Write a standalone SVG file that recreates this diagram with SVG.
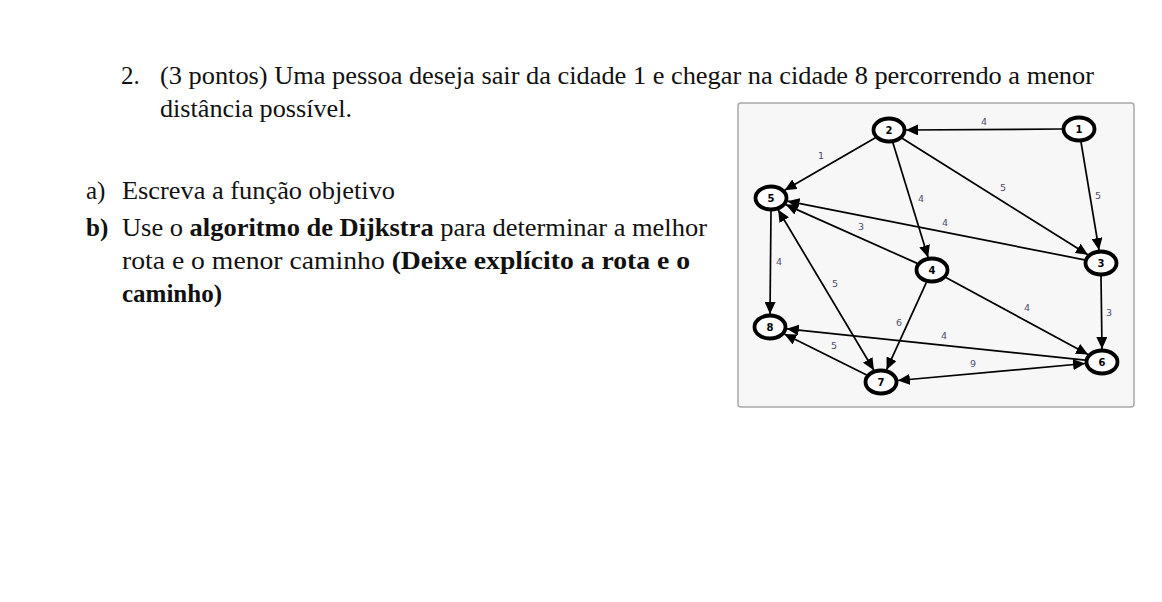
<svg xmlns="http://www.w3.org/2000/svg" width="1162" height="602" viewBox="0 0 1162 602">
<style>
.t{font-family:"Liberation Serif","Times New Roman",serif;font-size:25px;fill:#111}
.b{font-weight:bold}
.nd{fill:#fff;stroke:#000;stroke-width:3.8}
.nl{font-family:"DejaVu Sans",Verdana,sans-serif;font-size:10px;font-weight:bold;fill:#000;text-anchor:middle}
.el{font-family:"DejaVu Sans",Verdana,sans-serif;font-size:9.5px;fill:#4e4e6e;text-anchor:middle}
.e{stroke:#000;stroke-width:1.7;fill:none;marker-end:url(#ah)}
.e2{marker-start:url(#ah)}
</style>
<defs>
<marker id="ah" markerUnits="userSpaceOnUse" markerWidth="13" markerHeight="11" refX="12" refY="5.5" orient="auto-start-reverse" viewBox="0 0 13 11">
<path d="M0,0 L12,5.5 L0,11 z" fill="#000"/>
</marker>
</defs>
<rect width="1162" height="602" fill="#fff"/>
<g id="text">
<text class="t" x="121" y="84">2.</text>
<text class="t" x="160" y="84" textLength="934" lengthAdjust="spacingAndGlyphs">(3 pontos) Uma pessoa deseja sair da cidade 1 e chegar na cidade 8 percorrendo a menor</text>
<text class="t" x="160" y="117" textLength="192" lengthAdjust="spacingAndGlyphs">distância possível.</text>
<text class="t" x="86" y="199">a)</text>
<text class="t" x="122" y="199" textLength="273" lengthAdjust="spacingAndGlyphs">Escreva a função objetivo</text>
<text class="t b" x="86" y="236">b)</text>
<text class="t" x="122" y="236" textLength="585" lengthAdjust="spacingAndGlyphs">Use o <tspan class="b">algoritmo de Dijkstra</tspan> para determinar a melhor</text>
<text class="t" x="122" y="269" textLength="568" lengthAdjust="spacingAndGlyphs">rota e o menor caminho <tspan class="b">(Deixe explícito a rota e o</tspan></text>
<text class="t b" x="122" y="302" textLength="100" lengthAdjust="spacingAndGlyphs">caminho)</text>
</g>
<rect id="frame" x="738" y="103" width="396" height="304" rx="3" fill="#f7f7f7" stroke="#a8a8a8" stroke-width="1.5"/>
<g id="connectors">
<line class="e" x1="1062" y1="129" x2="906" y2="130"/>
<line class="e" x1="1081" y1="142" x2="1099" y2="250"/>
<line class="e" x1="875.4" y1="137.8" x2="784.6" y2="190.2"/>
<line class="e" x1="892.9" y1="142.7" x2="928.1" y2="257.4"/>
<line class="e" x1="902.1" y1="138.2" x2="1087.9" y2="254.8"/>
<line class="e" x1="1084.5" y1="259.8" x2="787.5" y2="201.2"/>
<line class="e" x1="917.3" y1="263.4" x2="785.7" y2="204.6"/>
<line class="e" x1="771" y1="211" x2="770" y2="314"/>
<line class="e e2" x1="778.1" y1="209.8" x2="873.9" y2="370.2"/>
<line class="e" x1="926.4" y1="282.3" x2="886.6" y2="369.7"/>
<line class="e" x1="945.9" y1="277.5" x2="1088.1" y2="354.5"/>
<line class="e" x1="1101" y1="276" x2="1102" y2="349"/>
<line class="e" x1="1085.2" y1="360.2" x2="786.8" y2="328.8"/>
<line class="e" x1="866.7" y1="374.9" x2="784.3" y2="334.1"/>
<line class="e e2" x1="897.9" y1="380.5" x2="1085.1" y2="363.5"/>
<text class="el" x="984" y="125">4</text>
<text class="el" x="1098" y="199">5</text>
<text class="el" x="821" y="159">1</text>
<text class="el" x="921" y="202">4</text>
<text class="el" x="1003" y="191">5</text>
<text class="el" x="945" y="226">4</text>
<text class="el" x="861" y="230">3</text>
<text class="el" x="779" y="265">4</text>
<text class="el" x="835" y="287">5</text>
<text class="el" x="899" y="326">6</text>
<text class="el" x="1027" y="311">4</text>
<text class="el" x="1109" y="316">3</text>
<text class="el" x="944" y="339">4</text>
<text class="el" x="834" y="349">5</text>
<text class="el" x="973" y="367">9</text>
</g>
<g id="n1"><ellipse class="nd" cx="1079" cy="129" rx="15.5" ry="11.5"/><text class="nl" x="1079" y="132.5">1</text></g>
<g id="n2"><ellipse class="nd" cx="889" cy="130" rx="15.5" ry="11.5"/><text class="nl" x="889" y="133.5">2</text></g>
<g id="n3"><ellipse class="nd" cx="1101" cy="263" rx="15.5" ry="11.5"/><text class="nl" x="1101" y="266.5">3</text></g>
<g id="n4"><ellipse class="nd" cx="932" cy="270" rx="15.5" ry="11.5"/><text class="nl" x="932" y="273.5">4</text></g>
<g id="n5"><ellipse class="nd" cx="771" cy="198" rx="15.5" ry="11.5"/><text class="nl" x="771" y="201.5">5</text></g>
<g id="n6"><ellipse class="nd" cx="1102" cy="362" rx="15.5" ry="11.5"/><text class="nl" x="1102" y="365.5">6</text></g>
<g id="n7"><ellipse class="nd" cx="881" cy="382" rx="15.5" ry="11.5"/><text class="nl" x="881" y="385.5">7</text></g>
<g id="n8"><ellipse class="nd" cx="770" cy="327" rx="15.5" ry="11.5"/><text class="nl" x="770" y="330.5">8</text></g>
</svg>
